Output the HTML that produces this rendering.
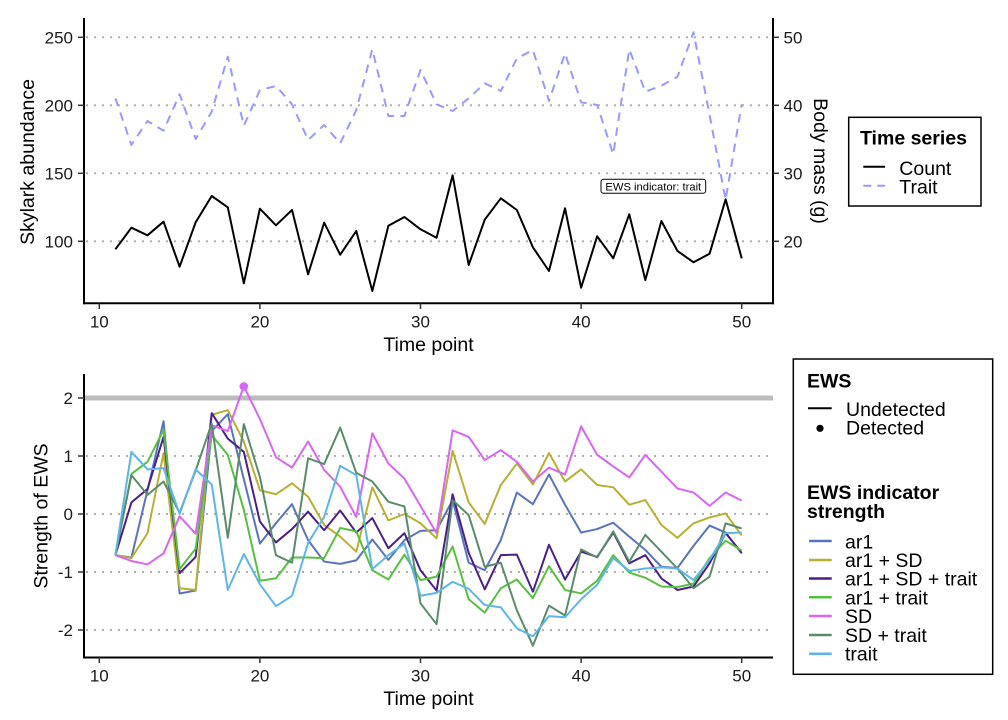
<!DOCTYPE html>
<html><head><meta charset="utf-8">
<style>
html,body{margin:0;padding:0;background:#fff;}
svg{display:block;}
text{font-family:"Liberation Sans",Arial,sans-serif;}
</style></head>
<body>
<svg width="1008" height="720" viewBox="0 0 1008 720" xmlns="http://www.w3.org/2000/svg">
<rect width="1008" height="720" fill="#fff"/>

<!-- ============ TOP PANEL ============ -->
<g stroke="#b0b0b0" stroke-width="2" stroke-dasharray="2 6" fill="none">
  <line x1="86" y1="37.3" x2="773" y2="37.3"/>
  <line x1="86" y1="105.3" x2="773" y2="105.3"/>
  <line x1="86" y1="173.3" x2="773" y2="173.3"/>
  <line x1="86" y1="241.3" x2="773" y2="241.3"/>
</g>

<!-- trait dashed -->
<polyline fill="none" stroke="#9999ff" stroke-width="2" stroke-dasharray="8.5 6.5" stroke-linejoin="round"
points="115.4,98.3 131.4,145 147.5,121 163.5,130.7 179.6,94.3 195.7,139 211.7,111.7 227.8,56.7 243.8,125.7 259.9,90 276,86 292,104.3 308.1,140 324.1,125 340.2,143.3 356.3,110 372.3,49.3 388.4,116 404.4,116 420.5,70 436.6,104.3 452.6,111 468.7,98.3 484.7,83.3 500.8,91 516.9,58.3 532.9,50 549,101 565,53.3 581.1,102.3 597.2,105 613.2,154.3 629.3,49.3 645.3,91.7 661.4,85.7 677.5,76.7 693.5,32.3 709.6,115 725.6,200 741.7,104.3"/>

<!-- count black -->
<polyline fill="none" stroke="#000" stroke-width="2" stroke-linejoin="round" vector-effect="non-scaling-stroke"
transform="translate(99.3 0) scale(16.06 1)"
points="1,249.3 2,227.7 3,235.3 4,221.7 5,266.7 6,222.3 7,196 8,207.3 9,283.3 10,208.7 11,225.3 12,210 13,274.3 14,222.7 15,254.7 16,231 17,291 18,225.7 19,217 20,229.3 21,237.7 22,175.3 23,265 24,219.7 25,198.3 26,210 27,247.3 28,271 29,208.3 30,287.7 31,236.3 32,258.3 33,214.3 34,280 35,221 36,251 37,262.3 38,253.7 39,199.3 40,258.3"/>

<!-- annotation -->
<rect x="601" y="179.3" width="104.7" height="14" rx="2.5" fill="#fff" stroke="#000" stroke-width="1"/>
<text x="653.3" y="190.5" font-size="11.2" text-anchor="middle" fill="#000">EWS indicator: trait</text>

<!-- top axes -->
<g stroke="#000" stroke-width="2" fill="none">
  <line x1="84" y1="18" x2="84" y2="304.3"/>
  <line x1="83" y1="303.3" x2="774" y2="303.3"/>
  <line x1="773" y1="18" x2="773" y2="304.3"/>
</g>
<g stroke="#333" stroke-width="1.5">
  <line x1="78" y1="37.3" x2="84" y2="37.3"/>
  <line x1="78" y1="105.3" x2="84" y2="105.3"/>
  <line x1="78" y1="173.3" x2="84" y2="173.3"/>
  <line x1="78" y1="241.3" x2="84" y2="241.3"/>
  <line x1="773" y1="37.3" x2="779" y2="37.3"/>
  <line x1="773" y1="105.3" x2="779" y2="105.3"/>
  <line x1="773" y1="173.3" x2="779" y2="173.3"/>
  <line x1="773" y1="241.3" x2="779" y2="241.3"/>
  <line x1="99.3" y1="303.3" x2="99.3" y2="309"/>
  <line x1="259.9" y1="303.3" x2="259.9" y2="309"/>
  <line x1="420.5" y1="303.3" x2="420.5" y2="309"/>
  <line x1="581.1" y1="303.3" x2="581.1" y2="309"/>
  <line x1="741.7" y1="303.3" x2="741.7" y2="309"/>
</g>
<g font-size="17" fill="#1a1a1a" text-anchor="end">
  <text x="73" y="43.5">250</text>
  <text x="73" y="111.5">200</text>
  <text x="73" y="179.5">150</text>
  <text x="73" y="247.5">100</text>
</g>
<g font-size="17" fill="#1a1a1a" text-anchor="start">
  <text x="783.5" y="43.5">50</text>
  <text x="783.5" y="111.5">40</text>
  <text x="783.5" y="179.5">30</text>
  <text x="783.5" y="247.5">20</text>
</g>
<g font-size="17" fill="#1a1a1a" text-anchor="middle">
  <text x="99.3" y="327.5">10</text>
  <text x="259.9" y="327.5">20</text>
  <text x="420.5" y="327.5">30</text>
  <text x="581.1" y="327.5">40</text>
  <text x="741.7" y="327.5">50</text>
</g>
<text x="428.5" y="351" font-size="19.5" text-anchor="middle" fill="#000">Time point</text>
<text transform="translate(34 162) rotate(-90)" font-size="19.5" text-anchor="middle" fill="#000">Skylark abundance</text>
<text transform="translate(814 161) rotate(90)" font-size="19.5" text-anchor="middle" fill="#000">Body mass (g)</text>

<!-- top legend -->
<rect x="848.7" y="117.3" width="132.3" height="88.7" fill="#fff" stroke="#000" stroke-width="1.5"/>
<text x="860" y="144.3" font-size="19.5" font-weight="bold" fill="#000">Time series</text>
<line x1="863.3" y1="166.7" x2="885" y2="166.7" stroke="#000" stroke-width="2"/>
<text x="899.3" y="175" font-size="19.5" fill="#000">Count</text>
<line x1="863.3" y1="185.7" x2="885" y2="185.7" stroke="#9999ff" stroke-width="2" stroke-dasharray="8 6"/>
<text x="899.3" y="193.3" font-size="19.5" fill="#000">Trait</text>

<!-- ============ BOTTOM PANEL ============ -->
<g stroke="#b0b0b0" stroke-width="2" stroke-dasharray="2 6" fill="none">
  <line x1="86" y1="456" x2="773" y2="456"/>
  <line x1="86" y1="514" x2="773" y2="514"/>
  <line x1="86" y1="572" x2="773" y2="572"/>
  <line x1="86" y1="630" x2="773" y2="630"/>
</g>
<line x1="85" y1="398" x2="773" y2="398" stroke="#bcbcbc" stroke-width="5"/>

<g fill="none" stroke-width="2" stroke-linejoin="round" vector-effect="non-scaling-stroke" transform="translate(99.3 514) scale(16.06 -58)">
<polyline vector-effect="non-scaling-stroke" stroke="#5a73be" points="1,-0.71 2,-0.75 3,0.41 4,1.6 5,-1.37 6,-1.32 7,1.43 8,1.72 9,0.6 10,-0.51 11,-0.16 12,0.17 13,-0.45 14,-0.82 15,-0.86 16,-0.8 17,-0.44 18,-0.79 19,-0.45 20,-0.29 21,-0.28 22,0.24 23,-0.84 24,-0.97 25,-0.45 26,0.37 27,0.17 28,0.68 29,0.16 30,-0.32 31,-0.26 32,-0.15 33,-0.39 34,-0.62 35,-0.91 36,-0.93 37,-0.55 38,-0.2 39,-0.32 40,-0.68"/>
<polyline vector-effect="non-scaling-stroke" stroke="#b8b032" points="1,-0.71 2,-0.76 3,-0.33 4,1.05 5,-1.28 6,-1.31 7,1.71 8,1.79 9,1.25 10,0.41 11,0.34 12,0.53 13,0.3 14,-0.19 15,-0.39 16,-0.65 17,0.46 18,-0.11 19,0 20,-0.16 21,-0.42 22,1.09 23,0.2 24,-0.17 25,0.5 26,0.87 27,0.51 28,1.05 29,0.56 30,0.77 31,0.5 32,0.46 33,0.16 34,0.24 35,-0.19 36,-0.41 37,-0.16 38,-0.06 39,0.01 40,-0.37"/>
<polyline vector-effect="non-scaling-stroke" stroke="#4a1f8a" points="1,-0.71 2,0.2 3,0.43 4,1.33 5,-1.02 6,-0.74 7,1.74 8,1.3 9,1.07 10,-0.13 11,-0.49 12,-0.26 13,0.04 14,-0.28 15,0.06 16,-0.32 17,-0.07 18,-0.59 19,-0.33 20,-0.97 21,-1.32 22,0.34 23,-0.67 24,-1.3 25,-0.71 26,-0.7 27,-1.34 28,-0.53 29,-1.13 30,-0.65 31,-0.74 32,-0.32 33,-0.85 34,-0.71 35,-1.11 36,-1.31 37,-1.25 38,-0.85 39,-0.33 40,-0.67"/>
<polyline vector-effect="non-scaling-stroke" stroke="#56c13f" points="1,-0.71 2,0.69 3,0.9 4,1.45 5,-0.95 6,-0.6 7,1.36 8,1.02 9,0.07 10,-1.15 11,-1.11 12,-0.75 13,-0.75 14,-0.76 15,-0.24 16,-0.3 17,-0.97 18,-1.13 19,-0.7 20,-1.14 21,-1.08 22,-0.56 23,-1.47 24,-1.7 25,-1.28 26,-1.13 27,-1.45 28,-0.9 29,-1.31 30,-1.37 31,-1.15 32,-0.71 33,-1.01 34,-1.1 35,-1.25 36,-1.26 37,-1.2 38,-0.76 39,-0.46 40,-0.63"/>
<polyline vector-effect="non-scaling-stroke" stroke="#d966f2" points="1,-0.71 2,-0.81 3,-0.87 4,-0.68 5,-0.04 6,-0.34 7,1.53 8,1.43 9,2.2 10,1.64 11,0.98 12,0.8 13,1.25 14,0.76 15,0.47 16,-0.05 17,1.39 18,0.87 19,0.61 20,0.14 21,-0.33 22,1.44 23,1.33 24,0.93 25,1.1 26,0.9 27,0.56 28,0.8 29,0.68 30,1.51 31,1.02 32,0.82 33,0.63 34,1.02 35,0.73 36,0.44 37,0.37 38,0.14 39,0.37 40,0.23"/>
<polyline vector-effect="non-scaling-stroke" stroke="#5a8c6a" points="1,-0.71 2,0.67 3,0.33 4,0.56 5,0.02 6,0.75 7,1.56 8,-0.41 9,1.55 10,0.64 11,-0.71 12,-0.84 13,0.96 14,0.86 15,1.49 16,0.71 17,0.56 18,0.21 19,0.13 20,-1.54 21,-1.9 22,0.24 23,-0.02 24,-0.91 25,-0.84 26,-1.66 27,-2.27 28,-1.58 29,-1.75 30,-0.61 31,-0.75 32,-0.3 33,-0.82 34,-0.36 35,-0.65 36,-0.94 37,-1.28 38,-1.08 39,-0.16 40,-0.25"/>
<polyline vector-effect="non-scaling-stroke" stroke="#5eb5e8" points="1,-0.71 2,1.07 3,0.77 4,0.79 5,0 6,0.77 7,0.51 8,-1.31 9,-0.69 10,-1.21 11,-1.59 12,-1.41 13,-0.5 14,-0.05 15,0.83 16,0.67 17,-0.95 18,-0.71 19,-0.51 20,-1.41 21,-1.36 22,-1.17 23,-1.29 24,-1.57 25,-1.61 26,-1.97 27,-2.11 28,-1.76 29,-1.78 30,-1.47 31,-1.22 32,-0.76 33,-0.98 34,-0.94 35,-0.92 36,-0.94 37,-1.14 38,-0.79 39,-0.33 40,-0.32"/>
</g>
<circle cx="243.8" cy="386.4" r="4.3" fill="#d966f2"/>

<!-- bottom axes -->
<g stroke="#000" stroke-width="2" fill="none">
  <line x1="84" y1="374" x2="84" y2="658.5"/>
  <line x1="83" y1="657.5" x2="773" y2="657.5"/>
</g>
<g stroke="#333" stroke-width="1.5">
  <line x1="78" y1="398" x2="84" y2="398"/>
  <line x1="78" y1="456" x2="84" y2="456"/>
  <line x1="78" y1="514" x2="84" y2="514"/>
  <line x1="78" y1="572" x2="84" y2="572"/>
  <line x1="78" y1="630" x2="84" y2="630"/>
  <line x1="99.3" y1="657.5" x2="99.3" y2="663"/>
  <line x1="259.9" y1="657.5" x2="259.9" y2="663"/>
  <line x1="420.5" y1="657.5" x2="420.5" y2="663"/>
  <line x1="581.1" y1="657.5" x2="581.1" y2="663"/>
  <line x1="741.7" y1="657.5" x2="741.7" y2="663"/>
</g>
<g font-size="17" fill="#1a1a1a" text-anchor="end">
  <text x="73" y="404.2">2</text>
  <text x="73" y="462.2">1</text>
  <text x="73" y="520.2">0</text>
  <text x="73" y="578.2">-1</text>
  <text x="73" y="636.2">-2</text>
</g>
<g font-size="17" fill="#1a1a1a" text-anchor="middle">
  <text x="99.3" y="681.7">10</text>
  <text x="259.9" y="681.7">20</text>
  <text x="420.5" y="681.7">30</text>
  <text x="581.1" y="681.7">40</text>
  <text x="741.7" y="681.7">50</text>
</g>
<text x="428.5" y="705" font-size="19.5" text-anchor="middle" fill="#000">Time point</text>
<text transform="translate(47.5 516) rotate(-90)" font-size="19.5" text-anchor="middle" fill="#000">Strength of EWS</text>

<!-- bottom legend -->
<rect x="793.3" y="359" width="199.4" height="315.3" fill="#fff" stroke="#000" stroke-width="1.5"/>
<text x="807" y="387.3" font-size="19.5" font-weight="bold" fill="#000">EWS</text>
<line x1="808" y1="408.3" x2="831.7" y2="408.3" stroke="#000" stroke-width="2"/>
<text x="846" y="416" font-size="19.5" fill="#000">Undetected</text>
<circle cx="820" cy="428.3" r="3.6" fill="#000"/>
<text x="846" y="434.5" font-size="19.5" fill="#000">Detected</text>
<text x="807" y="499" font-size="19.5" font-weight="bold" fill="#000">EWS indicator</text>
<text x="807" y="518" font-size="19.5" font-weight="bold" fill="#000">strength</text>
<g stroke-width="2.5">
  <line x1="809" y1="541" x2="831.7" y2="541" stroke="#5a73be"/>
  <line x1="809" y1="560" x2="831.7" y2="560" stroke="#b8b032"/>
  <line x1="809" y1="578.5" x2="831.7" y2="578.5" stroke="#4a1f8a"/>
  <line x1="809" y1="597.3" x2="831.7" y2="597.3" stroke="#56c13f"/>
  <line x1="809" y1="616" x2="831.7" y2="616" stroke="#d966f2"/>
  <line x1="809" y1="635" x2="831.7" y2="635" stroke="#5a8c6a"/>
  <line x1="809" y1="653.7" x2="831.7" y2="653.7" stroke="#5eb5e8"/>
</g>
<g font-size="19.5" fill="#000">
  <text x="845" y="548.3">ar1</text>
  <text x="845" y="567">ar1 + SD</text>
  <text x="845" y="585.5">ar1 + SD + trait</text>
  <text x="845" y="604.3">ar1 + trait</text>
  <text x="845" y="623">SD</text>
  <text x="845" y="642">SD + trait</text>
  <text x="845" y="660.7">trait</text>
</g>
</svg>
</body></html>
